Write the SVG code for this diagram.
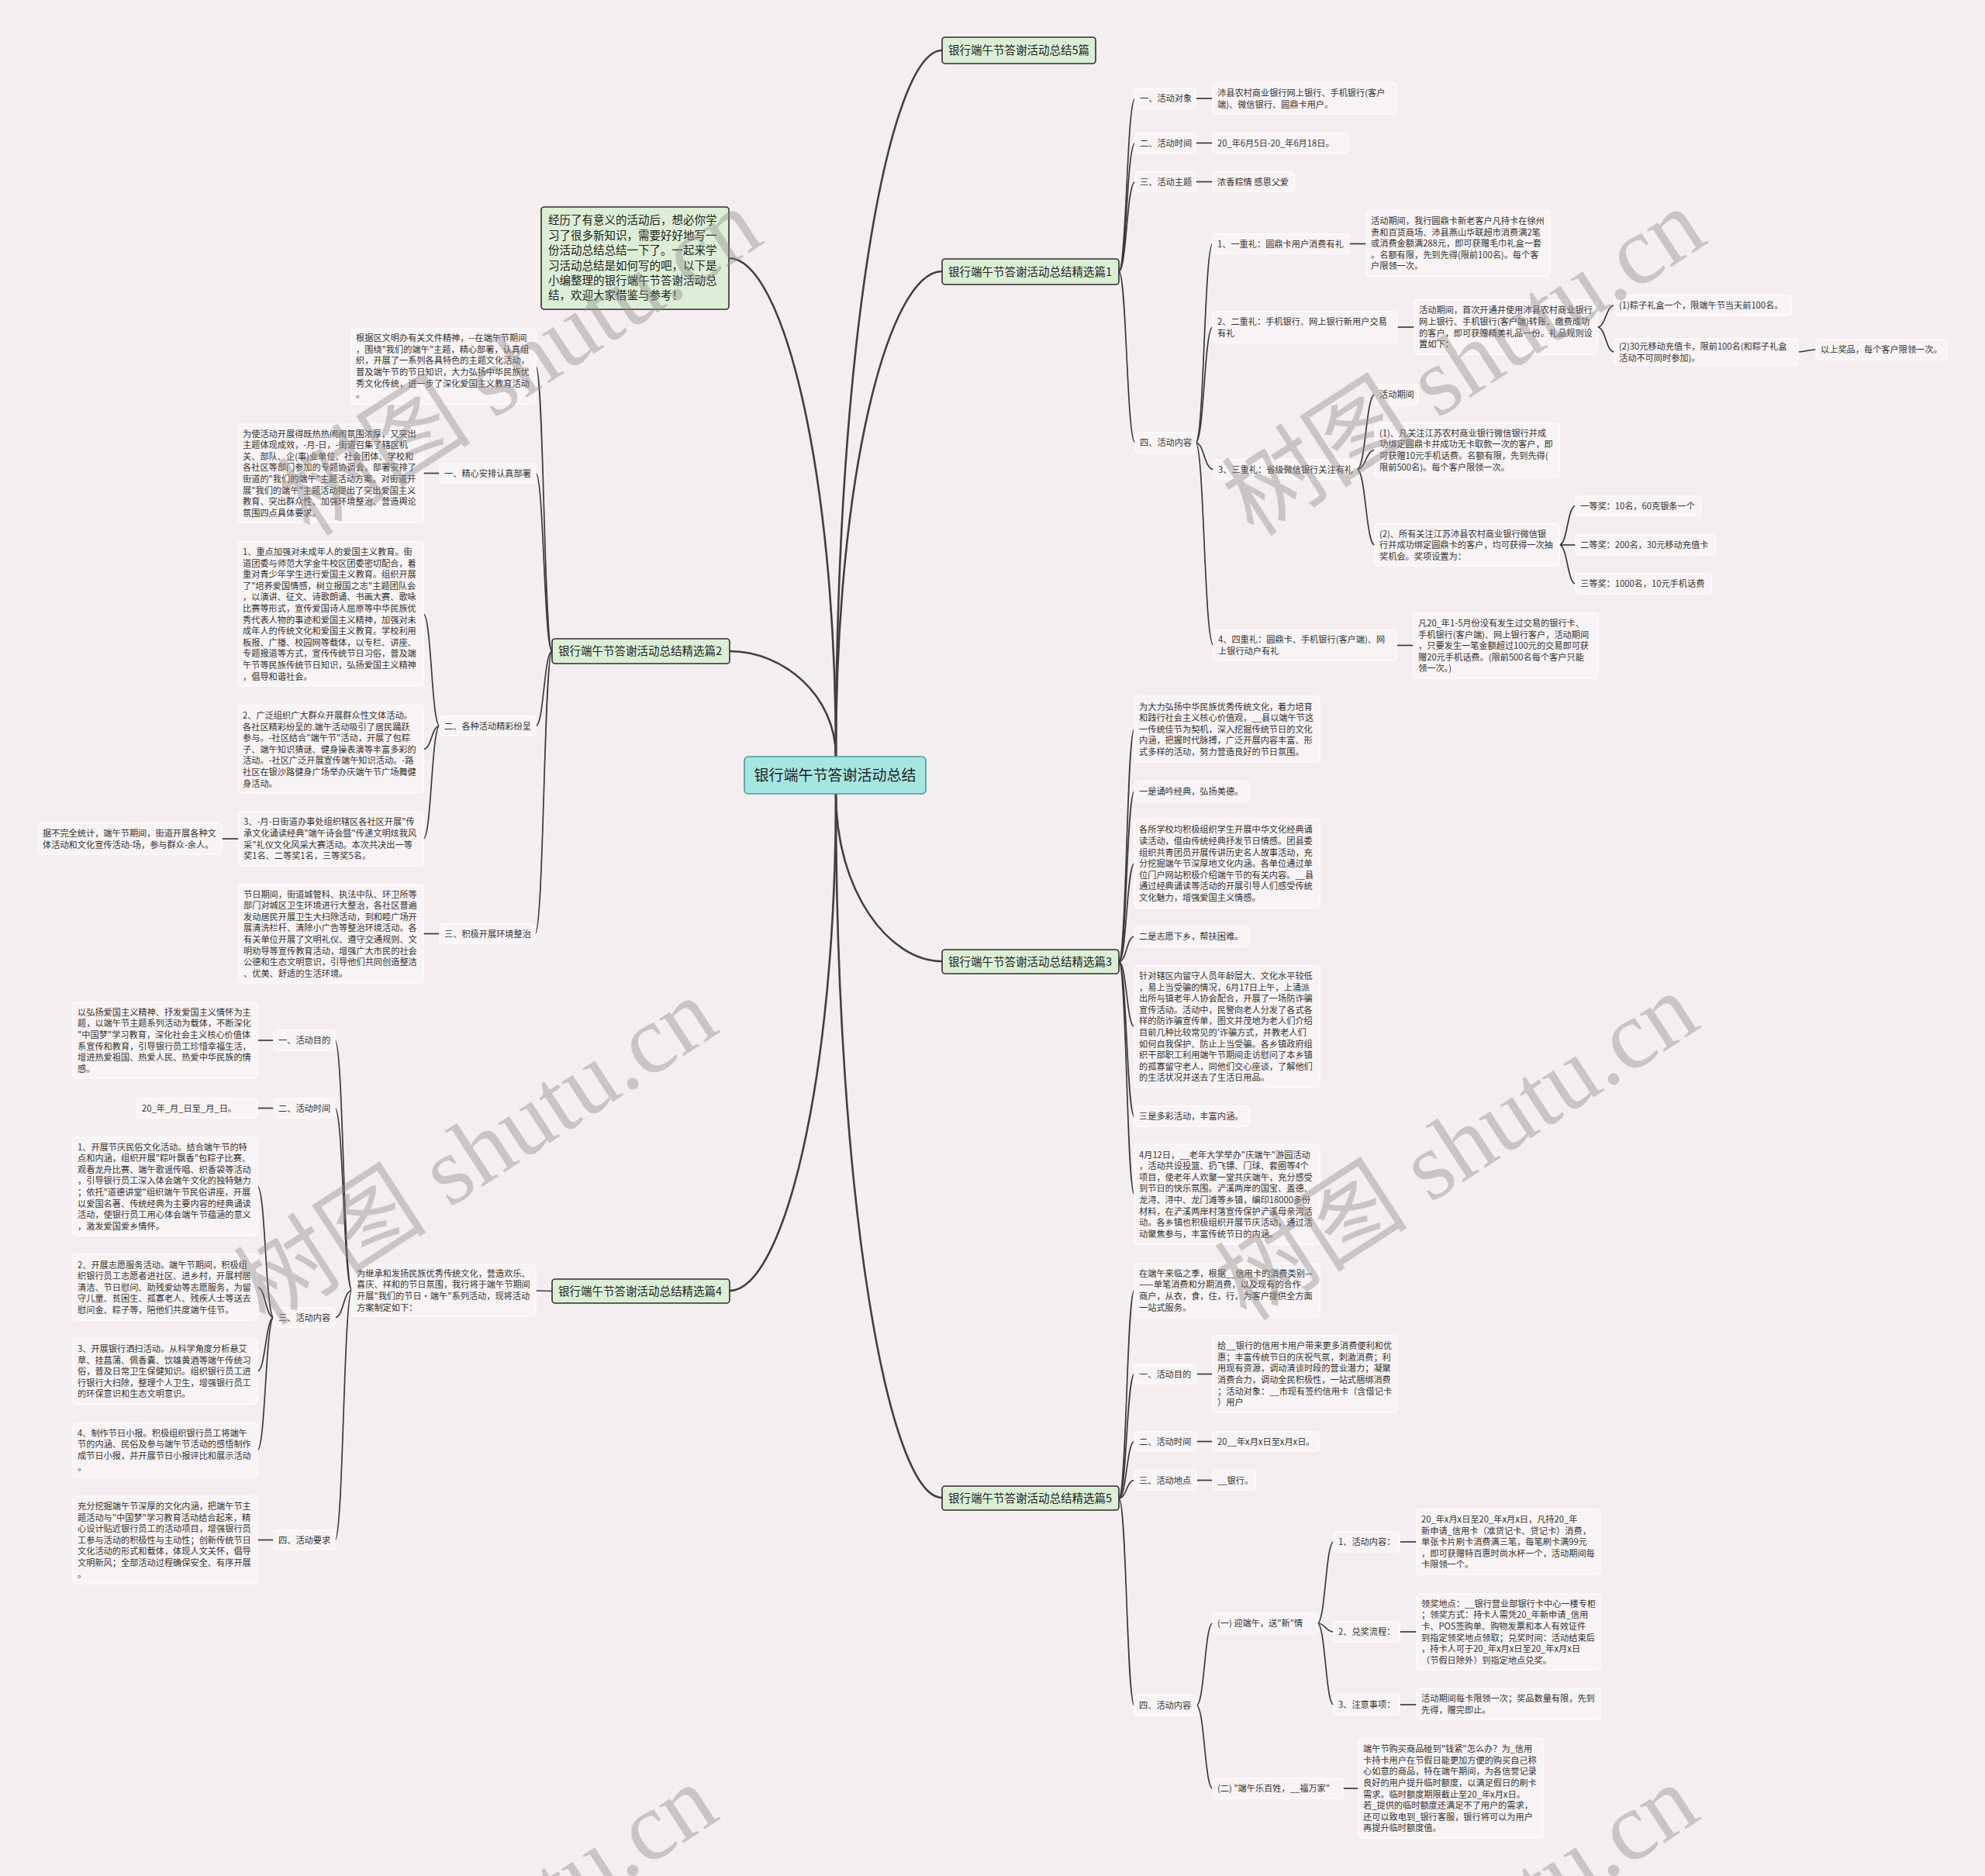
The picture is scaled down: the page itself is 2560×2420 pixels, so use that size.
<svg xmlns="http://www.w3.org/2000/svg" width="2560" height="2420" viewBox="0 0 2560 2420">
<style>
.bg{fill:#f5eef0}
.n rect{fill:#f8f3f4;stroke:#fdfbfb;stroke-width:1.5}
.n text{font-family:"Noto Sans CJK SC","Microsoft YaHei",sans-serif;font-size:11.2px;fill:#333}
.l1 rect{fill:#dcefd6;stroke:#2e2e2e;stroke-width:1.6}
.l1 text{font-family:"Noto Sans CJK SC","Microsoft YaHei",sans-serif;font-size:14.5px;fill:#222}
.root rect{fill:#a6e6e2;stroke:#4b9a96;stroke-width:1.6}
.root text{font-family:"Noto Sans CJK SC","Microsoft YaHei",sans-serif;font-size:19px;fill:#222}
.c0 path{fill:none;stroke:#404040;stroke-width:2.6}
.c1 path{fill:none;stroke:#3a3a3a;stroke-width:1.7}
.wm{font-family:"Liberation Serif","Noto Sans CJK SC",serif;font-size:125px;fill:#8f8a8b;fill-opacity:0.42}
</style>
<rect class="bg" x="0" y="0" width="2560" height="2420"/>

<g id="connectors">
<g class="c0">
<path d="M1078 976 C1078 448 1146 65 1215 65"/>
<path d="M1078 976 C1078 613 1146 350 1215 350"/>
<path d="M1078 976 C1078 603 1009 333 940 333"/>
<path d="M1078 976 C1078 897 1010 840 941 840"/>
<path d="M1078 1024 C1078 1149 1146 1240 1215 1240"/>
<path d="M1078 1024 C1078 1551 1146 1932 1215 1932"/>
<path d="M1078 1024 C1078 1396 1010 1665 941 1665"/>
</g>
<g class="c1">
<!-- 篇1 -->
<path d="M1443 350 C1453 350 1453 127 1464 127"/>
<path d="M1443 350 C1453 350 1453 184.5 1464 184.5"/>
<path d="M1443 350 C1453 350 1453 234.5 1464 234.5"/>
<path d="M1443 350 C1453 350 1453 571 1464 571"/>
<path d="M1542 127 L1564 127"/>
<path d="M1542 184.5 L1564 184.5"/>
<path d="M1542 234.5 L1564 234.5"/>
<path d="M1542 571 C1553 571 1553 314.5 1564 314.5"/>
<path d="M1542 571 C1553 571 1553 422 1564 422"/>
<path d="M1542 571 C1553 571 1553 605.5 1565 605.5"/>
<path d="M1542 571 C1553 571 1553 832.5 1565 832.5"/>
<path d="M1740 314.5 L1762 314.5"/>
<path d="M1802 422 L1824 422"/>
<path d="M2060 422 C2071 422 2071 394 2082 394"/>
<path d="M2060 422 C2071 422 2071 454 2082 454"/>
<path d="M2319 454 C2330 454 2330 451 2342 451"/>
<path d="M1750 605.5 C1761.5 605.5 1761.5 509 1773 509"/>
<path d="M1750 605.5 C1761.5 605.5 1761.5 580.5 1773 580.5"/>
<path d="M1750 605.5 C1761.5 605.5 1761.5 703 1773 703"/>
<path d="M2011 703 C2021.5 703 2021.5 652.5 2032 652.5"/>
<path d="M2011 703 L2032 703"/>
<path d="M2011 703 C2021.5 703 2021.5 753 2032 753"/>
<path d="M1801 832.5 L1823 832.5"/>
<!-- 篇3 -->
<path d="M1443 1240.5 C1453 1240.5 1453 940.5 1463 940.5"/>
<path d="M1443 1240.5 C1453 1240.5 1453 1021 1463 1021"/>
<path d="M1443 1240.5 C1453 1240.5 1453 1114 1463 1114"/>
<path d="M1443 1240.5 C1453 1240.5 1453 1208 1463 1208"/>
<path d="M1443 1240.5 C1453 1240.5 1453 1324.5 1463 1324.5"/>
<path d="M1443 1240.5 C1453 1240.5 1453 1440 1463 1440"/>
<path d="M1443 1240.5 C1453 1240.5 1453 1540.5 1463 1540.5"/>
<!-- 篇5 -->
<path d="M1443 1932.5 C1453 1932.5 1453 1664.5 1463 1664.5"/>
<path d="M1443 1932.5 C1453 1932.5 1453 1772.5 1463 1772.5"/>
<path d="M1443 1932.5 C1453 1932.5 1453 1859.5 1463 1859.5"/>
<path d="M1443 1932.5 C1453 1932.5 1453 1909.5 1463 1909.5"/>
<path d="M1443 1932.5 C1453 1932.5 1453 2200 1463 2200"/>
<path d="M1543 1772.5 L1564 1772.5"/>
<path d="M1543 1859.5 L1564 1859.5"/>
<path d="M1543 1909.5 L1564 1909.5"/>
<path d="M1543 2200 C1553.5 2200 1553.5 2094 1564 2094"/>
<path d="M1543 2200 C1553.5 2200 1553.5 2307 1564 2307"/>
<path d="M1699 2094 C1709.5 2094 1709.5 1989 1720 1989"/>
<path d="M1699 2094 C1709.5 2094 1709.5 2105 1720 2105"/>
<path d="M1699 2094 C1709.5 2094 1709.5 2199 1720 2199"/>
<path d="M1805 1989 L1827 1989"/>
<path d="M1805 2105 L1827 2105"/>
<path d="M1805 2199 L1827 2199"/>
<path d="M1732 2307 L1752 2307"/>
<!-- 篇2 -->
<path d="M712 840 C701.5 840 701.5 472.5 691 472.5"/>
<path d="M712 840 C701.5 840 701.5 610.5 691 610.5"/>
<path d="M712 840 C701.5 840 701.5 936.5 691 936.5"/>
<path d="M712 840 C701.5 840 701.5 1204.5 690 1204.5"/>
<path d="M567 610.5 L546 610.5"/>
<path d="M567 936.5 C556.5 936.5 556.5 792 546 792"/>
<path d="M567 936.5 C556.5 936.5 556.5 966.5 546 966.5"/>
<path d="M567 936.5 C556.5 936.5 556.5 1082 546 1082"/>
<path d="M308 1082 L286 1082"/>
<path d="M567 1204.5 L546 1204.5"/>
<!-- 篇4 -->
<path d="M712 1665.5 L691 1665"/>
<path d="M454 1664.5 C443 1664.5 443 1342 432 1342"/>
<path d="M454 1664.5 C443 1664.5 443 1429.5 432 1429.5"/>
<path d="M454 1664.5 C443 1664.5 443 1699.5 432 1699.5"/>
<path d="M454 1664.5 C443 1664.5 443 1986.5 432 1986.5"/>
<path d="M353 1342 L332 1342"/>
<path d="M353 1429.5 L332 1429.5"/>
<path d="M353 1699.5 C342.5 1699.5 342.5 1530.5 332 1530.5"/>
<path d="M353 1699.5 C342.5 1699.5 342.5 1660.5 332 1660.5"/>
<path d="M353 1699.5 C342.5 1699.5 342.5 1769 332 1769"/>
<path d="M353 1699.5 C342.5 1699.5 342.5 1870.5 332 1870.5"/>
<path d="M353 1986.5 L332 1986.5"/>
</g>
</g>

<g id="root" class="root"><rect x="960" y="976" width="234" height="48" rx="5"/><text x="1077" y="1006.8" text-anchor="middle">银行端午节答谢活动总结</text></g>

<g id="b5" class="l1"><rect x="1215" y="48" width="198" height="34" rx="4"/><text x="1223" y="70.3">银行端午节答谢活动总结5篇</text></g>
<g id="b1" class="l1"><rect x="1215" y="334" width="228" height="33" rx="4"/><text x="1223" y="355.8">银行端午节答谢活动总结精选篇1</text></g>
<g id="b3" class="l1"><rect x="1215" y="1225" width="228" height="31" rx="4"/><text x="1223" y="1245.8">银行端午节答谢活动总结精选篇3</text></g>
<g id="b5b" class="l1"><rect x="1215" y="1917" width="228" height="31" rx="4"/><text x="1223" y="1937.8">银行端午节答谢活动总结精选篇5</text></g>
<g id="b2" class="l1"><rect x="712" y="824" width="229" height="32" rx="4"/><text x="720" y="845.3">银行端午节答谢活动总结精选篇2</text></g>
<g id="b4" class="l1"><rect x="712" y="1650" width="229" height="31" rx="4"/><text x="720" y="1670.8">银行端午节答谢活动总结精选篇4</text></g>
<g id="intro" class="l1"><rect x="698" y="267" width="242" height="132" rx="4"/><text x="707" y="289.3"><tspan x="707">经历了有意义的活动后，想必你学</tspan><tspan x="707" dy="19.4">习了很多新知识，需要好好地写一</tspan><tspan x="707" dy="19.4">份活动总结总结一下了。一起来学</tspan><tspan x="707" dy="19.4">习活动总结是如何写的吧，以下是</tspan><tspan x="707" dy="19.4">小编整理的银行端午节答谢活动总</tspan><tspan x="707" dy="19.4">结，欢迎大家借鉴与参考！</tspan></text></g>

<!-- 篇1 children -->
<g id="n1" class="n"><rect x="1464" y="114" width="78" height="26" rx="4"/><text x="1470" y="131.2">一、活动对象</text></g>
<g id="n1t" class="n"><rect x="1564" y="107" width="237" height="40" rx="4"/><text x="1570" y="123.9"><tspan x="1570">沛县农村商业银行网上银行、手机银行(客户</tspan><tspan x="1570" dy="14.6">端)、微信银行、圆鼎卡用户。</tspan></text></g>
<g id="n2" class="n"><rect x="1464" y="172" width="78" height="25" rx="4"/><text x="1470" y="188.7">二、活动时间</text></g>
<g id="n2t" class="n"><rect x="1564" y="172" width="175" height="25" rx="4"/><text x="1570" y="188.7">20_年6月5日-20_年6月18日。</text></g>
<g id="n3" class="n"><rect x="1464" y="222" width="78" height="25" rx="4"/><text x="1470" y="238.7">三、活动主题</text></g>
<g id="n3t" class="n"><rect x="1564" y="222" width="105" height="25" rx="4"/><text x="1570" y="238.7">浓香粽情 感恩父爱</text></g>
<g id="n4" class="n"><rect x="1464" y="558" width="78" height="26" rx="4"/><text x="1470" y="575.2">四、活动内容</text></g>
<g id="n4a" class="n"><rect x="1564" y="302" width="176" height="25" rx="4"/><text x="1570" y="318.7">1、一重礼：圆鼎卡用户消费有礼</text></g>
<g id="n4at" class="n"><rect x="1762" y="272" width="237" height="84" rx="4"/><text x="1768" y="289"><tspan x="1768">活动期间，我行圆鼎卡新老客户凡持卡在徐州</tspan><tspan x="1768" dy="14.6">贵和百货商场、沛县燕山华联超市消费满2笔</tspan><tspan x="1768" dy="14.6">或消费金额满288元，即可获赠毛巾礼盒一套</tspan><tspan x="1768" dy="14.6">。名额有限，先到先得(限前100名)。每个客</tspan><tspan x="1768" dy="14.6">户限领一次。</tspan></text></g>
<g id="n4b" class="n"><rect x="1564" y="402" width="238" height="40" rx="4"/><text x="1570" y="418.9"><tspan x="1570">2、二重礼：手机银行、网上银行新用户交易</tspan><tspan x="1570" dy="14.6">有礼</tspan></text></g>
<g id="n4bt" class="n"><rect x="1824" y="387" width="236" height="70" rx="4"/><text x="1830" y="404.3"><tspan x="1830">活动期间，首次开通并使用沛县农村商业银行</tspan><tspan x="1830" dy="14.6">网上银行、手机银行(客户端)转账、缴费成功</tspan><tspan x="1830" dy="14.6">的客户，即可获赠精美礼品一份。礼品规则设</tspan><tspan x="1830" dy="14.6">置如下：</tspan></text></g>
<g id="n4b1" class="n"><rect x="2082" y="381" width="228" height="26" rx="4"/><text x="2088" y="398.2">(1)粽子礼盒一个，限端午节当天前100名。</text></g>
<g id="n4b2" class="n"><rect x="2082" y="437" width="237" height="34" rx="4"/><text x="2088" y="450.9"><tspan x="2088">(2)30元移动充值卡，限前100名(和粽子礼盒</tspan><tspan x="2088" dy="14.6">活动不可同时参加)。</tspan></text></g>
<g id="n4b3" class="n"><rect x="2342" y="438" width="169" height="26" rx="4"/><text x="2348" y="455.2">以上奖品，每个客户限领一次。</text></g>
<g id="n4c" class="n"><rect x="1565" y="593" width="185" height="25" rx="4"/><text x="1571" y="609.7">3、三重礼：省级微信银行关注有礼</text></g>
<g id="n4c1" class="n"><rect x="1773" y="496" width="56" height="26" rx="4"/><text x="1779" y="513.2">活动期间</text></g>
<g id="n4c2" class="n"><rect x="1773" y="546" width="238" height="69" rx="4"/><text x="1779" y="562.8"><tspan x="1779">(1)、凡关注江苏农村商业银行微信银行并成</tspan><tspan x="1779" dy="14.6">功绑定圆鼎卡并成功无卡取款一次的客户，即</tspan><tspan x="1779" dy="14.6">可获赠10元手机话费。名额有限，先到先得(</tspan><tspan x="1779" dy="14.6">限前500名)。每个客户限领一次。</tspan></text></g>
<g id="n4c3" class="n"><rect x="1773" y="676" width="238" height="54" rx="4"/><text x="1779" y="692.6"><tspan x="1779">(2)、所有关注江苏沛县农村商业银行微信银</tspan><tspan x="1779" dy="14.6">行并成功绑定圆鼎卡的客户，均可获得一次抽</tspan><tspan x="1779" dy="14.6">奖机会。奖项设置为：</tspan></text></g>
<g id="n4c3a" class="n"><rect x="2032" y="640" width="162" height="25" rx="4"/><text x="2038" y="656.7">一等奖：10名，60克银条一个</text></g>
<g id="n4c3b" class="n"><rect x="2032" y="690" width="180" height="26" rx="4"/><text x="2038" y="707.2">二等奖：200名，30元移动充值卡</text></g>
<g id="n4c3c" class="n"><rect x="2032" y="740" width="175" height="26" rx="4"/><text x="2038" y="757.2">三等奖：1000名，10元手机话费</text></g>
<g id="n4d" class="n"><rect x="1565" y="813" width="236" height="39" rx="4"/><text x="1571" y="829.4"><tspan x="1571">4、四重礼：圆鼎卡、手机银行(客户端)、网</tspan><tspan x="1571" dy="14.6">上银行动户有礼</tspan></text></g>
<g id="n4dt" class="n"><rect x="1823" y="791" width="238" height="84" rx="4"/><text x="1829" y="808"><tspan x="1829">凡20_年1-5月份没有发生过交易的银行卡、</tspan><tspan x="1829" dy="14.6">手机银行(客户端)、网上银行客户，活动期间</tspan><tspan x="1829" dy="14.6">，只要发生一笔金额超过100元的交易即可获</tspan><tspan x="1829" dy="14.6">赠20元手机话费。(限前500名每个客户只能</tspan><tspan x="1829" dy="14.6">领一次。)</tspan></text></g>

<!-- 篇3 children -->
<g id="p1" class="n"><rect x="1463" y="898" width="239" height="85" rx="4"/><text x="1469" y="915.5"><tspan x="1469">为大力弘扬中华民族优秀传统文化，着力培育</tspan><tspan x="1469" dy="14.6">和践行社会主义核心价值观，__县以端午节这</tspan><tspan x="1469" dy="14.6">一传统佳节为契机，深入挖掘传统节日的文化</tspan><tspan x="1469" dy="14.6">内涵，把握时代脉搏，广泛开展内容丰富、形</tspan><tspan x="1469" dy="14.6">式多样的活动，努力营造良好的节日氛围。</tspan></text></g>
<g id="p2" class="n"><rect x="1463" y="1008" width="148" height="26" rx="4"/><text x="1469" y="1025.2">一是诵吟经典，弘扬美德。</text></g>
<g id="p3" class="n"><rect x="1463" y="1057" width="239" height="114" rx="4"/><text x="1469" y="1074.4"><tspan x="1469">各所学校均积极组织学生开展中华文化经典诵</tspan><tspan x="1469" dy="14.6">读活动，借由传统经典抒发节日情感。团县委</tspan><tspan x="1469" dy="14.6">组织共青团员开展传讲历史名人故事活动，充</tspan><tspan x="1469" dy="14.6">分挖掘端午节深厚地文化内涵。各单位通过单</tspan><tspan x="1469" dy="14.6">位门户网站积极介绍端午节的有关内容。__县</tspan><tspan x="1469" dy="14.6">通过经典诵读等活动的开展引导人们感受传统</tspan><tspan x="1469" dy="14.6">文化魅力，增强爱国主义情感。</tspan></text></g>
<g id="p4" class="n"><rect x="1463" y="1195" width="148" height="26" rx="4"/><text x="1469" y="1212.2">二是志愿下乡，帮扶困难。</text></g>
<g id="p5" class="n"><rect x="1463" y="1246" width="239" height="157" rx="4"/><text x="1469" y="1263"><tspan x="1469">针对辖区内留守人员年龄层大、文化水平较低</tspan><tspan x="1469" dy="14.6">，易上当受骗的情况，6月17日上午，上涌派</tspan><tspan x="1469" dy="14.6">出所与镇老年人协会配合，开展了一场防诈骗</tspan><tspan x="1469" dy="14.6">宣传活动。活动中，民警向老人分发了各式各</tspan><tspan x="1469" dy="14.6">样的防诈骗宣传单，图文并茂地为老人们介绍</tspan><tspan x="1469" dy="14.6">目前几种比较常见的'诈骗方式，并教老人们</tspan><tspan x="1469" dy="14.6">如何自我保护、防止上当受骗。各乡镇政府组</tspan><tspan x="1469" dy="14.6">织干部职工利用端午节期间走访慰问了本乡镇</tspan><tspan x="1469" dy="14.6">的孤寡留守老人，同他们交心座谈，了解他们</tspan><tspan x="1469" dy="14.6">的生活状况并送去了生活日用品。</tspan></text></g>
<g id="p6" class="n"><rect x="1463" y="1427" width="148" height="26" rx="4"/><text x="1469" y="1444.2">三是多彩活动，丰富内涵。</text></g>
<g id="p7" class="n"><rect x="1463" y="1476" width="239" height="129" rx="4"/><text x="1469" y="1493.6"><tspan x="1469">4月12日，__老年大学举办"庆端午"游园活动</tspan><tspan x="1469" dy="14.6">，活动共设投篮、扔飞镖、门球、套圈等4个</tspan><tspan x="1469" dy="14.6">项目，使老年人欢聚一堂共庆端午，充分感受</tspan><tspan x="1469" dy="14.6">到节日的快乐氛围。浐溪两岸的国宝、盖德、</tspan><tspan x="1469" dy="14.6">龙浔、浔中、龙门滩等乡镇，编印18000多份</tspan><tspan x="1469" dy="14.6">材料，在浐溪两岸村落宣传保护浐溪母亲河活</tspan><tspan x="1469" dy="14.6">动。各乡镇也积极组织开展节庆活动，通过活</tspan><tspan x="1469" dy="14.6">动聚焦参与，丰富传统节日的内涵。</tspan></text></g>

<!-- 篇5 children -->
<g id="q1" class="n"><rect x="1463" y="1630" width="239" height="69" rx="4"/><text x="1469" y="1646.8"><tspan x="1469">在端午来临之季，根据__信用卡的消费类别—</tspan><tspan x="1469" dy="14.6">——单笔消费和分期消费，以及现有的合作</tspan><tspan x="1469" dy="14.6">商户，从衣，食，住，行，为客户提供全方面</tspan><tspan x="1469" dy="14.6">一站式服务。</tspan></text></g>
<g id="q2" class="n"><rect x="1463" y="1760" width="80" height="25" rx="4"/><text x="1469" y="1776.7">一、活动目的</text></g>
<g id="q2t" class="n"><rect x="1564" y="1723" width="238" height="99" rx="4"/><text x="1570" y="1740.2"><tspan x="1570">给__银行的信用卡用户带来更多消费便利和优</tspan><tspan x="1570" dy="14.6">惠；丰富传统节日的庆祝气氛，刺激消费；利</tspan><tspan x="1570" dy="14.6">用现有资源，调动清谈时段的营业潜力；凝聚</tspan><tspan x="1570" dy="14.6">消费合力，调动全民积极性，一站式捆绑消费</tspan><tspan x="1570" dy="14.6">；活动对象：__市现有签约信用卡（含借记卡</tspan><tspan x="1570" dy="14.6">）用户</tspan></text></g>
<g id="q3" class="n"><rect x="1463" y="1847" width="80" height="25" rx="4"/><text x="1469" y="1863.7">二、活动时间</text></g>
<g id="q3t" class="n"><rect x="1564" y="1847" width="137" height="25" rx="4"/><text x="1570" y="1863.7">20__年x月x日至x月x日。</text></g>
<g id="q4" class="n"><rect x="1463" y="1897" width="80" height="25" rx="4"/><text x="1469" y="1913.7">三、活动地点</text></g>
<g id="q4t" class="n"><rect x="1564" y="1897" width="55" height="25" rx="4"/><text x="1570" y="1913.7">__银行。</text></g>
<g id="q5" class="n"><rect x="1463" y="2187" width="80" height="26" rx="4"/><text x="1469" y="2204.2">四、活动内容</text></g>
<g id="q5a" class="n"><rect x="1564" y="2081" width="135" height="26" rx="4"/><text x="1570" y="2098.2">(一) 迎端午，送"新"情</text></g>
<g id="q5b" class="n"><rect x="1564" y="2294" width="168" height="26" rx="4"/><text x="1570" y="2311.2">(二) "端午乐百姓，__福万家"</text></g>
<g id="q5a1" class="n"><rect x="1720" y="1976" width="85" height="26" rx="4"/><text x="1726" y="1993.2">1、活动内容：</text></g>
<g id="q5a1t" class="n"><rect x="1827" y="1947" width="237" height="84" rx="4"/><text x="1833" y="1964"><tspan x="1833">20_年x月x日至20_年x月x日，凡持20_年</tspan><tspan x="1833" dy="14.6">新申请_信用卡（准贷记卡、贷记卡）消费，</tspan><tspan x="1833" dy="14.6">单张卡片刷卡消费满三笔，每笔刷卡满99元</tspan><tspan x="1833" dy="14.6">，即可获赠特百惠时尚水杯一个，活动期间每</tspan><tspan x="1833" dy="14.6">卡限领一个。</tspan></text></g>
<g id="q5a2" class="n"><rect x="1720" y="2092" width="85" height="26" rx="4"/><text x="1726" y="2109.2">2、兑奖流程：</text></g>
<g id="q5a2t" class="n"><rect x="1827" y="2056" width="237" height="98" rx="4"/><text x="1833" y="2072.7"><tspan x="1833">领奖地点：__银行营业部银行卡中心一楼专柜</tspan><tspan x="1833" dy="14.6">；领奖方式：持卡人需凭20_年新申请_信用</tspan><tspan x="1833" dy="14.6">卡、POS签购单、购物发票和本人有效证件</tspan><tspan x="1833" dy="14.6">到指定领奖地点领取；兑奖时间：活动结束后</tspan><tspan x="1833" dy="14.6">，持卡人可于20_年x月x日至20_年x月x日</tspan><tspan x="1833" dy="14.6">（节假日除外）到指定地点兑奖。</tspan></text></g>
<g id="q5a3" class="n"><rect x="1720" y="2186" width="85" height="26" rx="4"/><text x="1726" y="2203.2">3、注意事项：</text></g>
<g id="q5a3t" class="n"><rect x="1827" y="2178" width="237" height="40" rx="4"/><text x="1833" y="2194.9"><tspan x="1833">活动期间每卡限领一次；奖品数量有限，先到</tspan><tspan x="1833" dy="14.6">先得，赠完即止。</tspan></text></g>
<g id="q5bt" class="n"><rect x="1752" y="2243" width="238" height="128" rx="4"/><text x="1758" y="2260.1"><tspan x="1758">端午节购买商品碰到"钱紧"怎么办？为_信用</tspan><tspan x="1758" dy="14.6">卡持卡用户在节假日能更加方便的购买自己称</tspan><tspan x="1758" dy="14.6">心如意的商品，特在端午期间，为各信誉记录</tspan><tspan x="1758" dy="14.6">良好的用户提升临时额度，以满足假日的刷卡</tspan><tspan x="1758" dy="14.6">需求。临时额度期限截止至20_年x月x日。</tspan><tspan x="1758" dy="14.6">若_提供的临时额度还满足不了用户的需求，</tspan><tspan x="1758" dy="14.6">还可以致电到_银行客服，银行将可以为用户</tspan><tspan x="1758" dy="14.6">再提升临时额度值。</tspan></text></g>

<!-- 篇2 children -->
<g id="r1" class="n"><rect x="453" y="424" width="238" height="97" rx="4"/><text x="459" y="440.2"><tspan x="459">根据区文明办有关文件精神，--在端午节期间</tspan><tspan x="459" dy="14.6">，围绕"我们的端午"主题，精心部署，认真组</tspan><tspan x="459" dy="14.6">织，开展了一系列各具特色的主题文化活动，</tspan><tspan x="459" dy="14.6">普及端午节的节日知识，大力弘扬中华民族优</tspan><tspan x="459" dy="14.6">秀文化传统，进一步了深化爱国主义教育活动</tspan><tspan x="459" dy="14.6">。</tspan></text></g>
<g id="r2" class="n"><rect x="567" y="598" width="124" height="25" rx="4"/><text x="573" y="614.7">一、精心安排认真部署</text></g>
<g id="r2t" class="n"><rect x="307" y="547" width="239" height="127" rx="4"/><text x="313" y="563.6"><tspan x="313">为使活动开展得既热热闹闹氛围浓厚，又突出</tspan><tspan x="313" dy="14.6">主题体现成效，-月-日，-街道召集了辖区机</tspan><tspan x="313" dy="14.6">关、部队、企(事)业单位、社会团体、学校和</tspan><tspan x="313" dy="14.6">各社区等部门参加的专题协调会，部署安排了</tspan><tspan x="313" dy="14.6">街道的"我们的端午"主题活动方案。对街道开</tspan><tspan x="313" dy="14.6">展"我们的端午"主题活动提出了突出爱国主义</tspan><tspan x="313" dy="14.6">教育、突出群众性、加强环境整治、营造舆论</tspan><tspan x="313" dy="14.6">氛围四点具体要求。</tspan></text></g>
<g id="r3" class="n"><rect x="567" y="924" width="124" height="25" rx="4"/><text x="573" y="940.7">二、各种活动精彩纷呈</text></g>
<g id="r3a" class="n"><rect x="307" y="699" width="239" height="186" rx="4"/><text x="313" y="715.9"><tspan x="313">1、重点加强对未成年人的爱国主义教育。街</tspan><tspan x="313" dy="14.6">道团委与师范大学金牛校区团委密切配合，着</tspan><tspan x="313" dy="14.6">重对青少年学生进行爱国主义教育。组织开展</tspan><tspan x="313" dy="14.6">了"培养爱国情感，树立报国之志"主题团队会</tspan><tspan x="313" dy="14.6">，以演讲、征文、诗歌朗诵、书画大赛、歌咏</tspan><tspan x="313" dy="14.6">比赛等形式，宣传爱国诗人屈原等中华民族优</tspan><tspan x="313" dy="14.6">秀代表人物的事迹和爱国主义精神，加强对未</tspan><tspan x="313" dy="14.6">成年人的传统文化和爱国主义教育。学校利用</tspan><tspan x="313" dy="14.6">板报、广播、校园网等载体，以专栏、讲座、</tspan><tspan x="313" dy="14.6">专题报道等方式，宣传传统节日习俗，普及端</tspan><tspan x="313" dy="14.6">午节等民族传统节日知识，弘扬爱国主义精神</tspan><tspan x="313" dy="14.6">，倡导和谐社会。</tspan></text></g>
<g id="r3b" class="n"><rect x="307" y="910" width="239" height="113" rx="4"/><text x="313" y="926.9"><tspan x="313">2、广泛组织广大群众开展群众性文体活动。</tspan><tspan x="313" dy="14.6">各社区精彩纷呈的.端午活动吸引了居民踊跃</tspan><tspan x="313" dy="14.6">参与。-社区结合"端午节"活动，开展了包粽</tspan><tspan x="313" dy="14.6">子、端午知识猜谜、健身操表演等丰富多彩的</tspan><tspan x="313" dy="14.6">活动。-社区广泛开展宣传端午知识活动。-路</tspan><tspan x="313" dy="14.6">社区在银沙路健身广场举办庆端午节广场舞健</tspan><tspan x="313" dy="14.6">身活动。</tspan></text></g>
<g id="r3c" class="n"><rect x="308" y="1047" width="238" height="70" rx="4"/><text x="314" y="1064.3"><tspan x="314">3、-月-日街道办事处组织辖区各社区开展"传</tspan><tspan x="314" dy="14.6">承文化诵读经典"端午诗会暨"传递文明炫我风</tspan><tspan x="314" dy="14.6">采"礼仪文化风采大赛活动。本次共决出一等</tspan><tspan x="314" dy="14.6">奖1名、二等奖1名，三等奖5名。</tspan></text></g>
<g id="r3ct" class="n"><rect x="49" y="1062" width="237" height="40" rx="4"/><text x="55" y="1078.9"><tspan x="55">据不完全统计，端午节期间，街道开展各种文</tspan><tspan x="55" dy="14.6">体活动和文化宣传活动-场，参与群众-余人。</tspan></text></g>
<g id="r4" class="n"><rect x="567" y="1192" width="123" height="25" rx="4"/><text x="573" y="1208.7">三、积极开展环境整治</text></g>
<g id="r4t" class="n"><rect x="308" y="1141" width="238" height="127" rx="4"/><text x="314" y="1157.6"><tspan x="314">节日期间，街道城管科、执法中队、环卫所等</tspan><tspan x="314" dy="14.6">部门对城区卫生环境进行大整治，各社区普遍</tspan><tspan x="314" dy="14.6">发动居民开展卫生大扫除活动，到和睦广场开</tspan><tspan x="314" dy="14.6">展清洗栏杆、清除小广告等整治环境活动。各</tspan><tspan x="314" dy="14.6">有关单位开展了文明礼仪、遵守交通规则、文</tspan><tspan x="314" dy="14.6">明劝导等宣传教育活动，增强广大市民的社会</tspan><tspan x="314" dy="14.6">公德和生态文明意识，引导他们共同创造整洁</tspan><tspan x="314" dy="14.6">、优美、舒适的生活环境。</tspan></text></g>

<!-- 篇4 children -->
<g id="s0" class="n"><rect x="454" y="1631" width="237" height="67" rx="4"/><text x="460" y="1646.8"><tspan x="460">为继承和发扬民族优秀传统文化，营造欢乐、</tspan><tspan x="460" dy="14.6">喜庆、祥和的节日氛围，我行将于端午节期间</tspan><tspan x="460" dy="14.6">开展"我们的节日·端午"系列活动，现将活动</tspan><tspan x="460" dy="14.6">方案制定如下：</tspan></text></g>
<g id="s1" class="n"><rect x="353" y="1329" width="79" height="26" rx="4"/><text x="359" y="1346.2">一、活动目的</text></g>
<g id="s1t" class="n"><rect x="94" y="1293" width="238" height="98" rx="4"/><text x="100" y="1309.7"><tspan x="100">以弘扬爱国主义精神、抒发爱国主义情怀为主</tspan><tspan x="100" dy="14.6">题，以端午节主题系列活动为载体，不断深化</tspan><tspan x="100" dy="14.6">"中国梦"学习教育，深化社会主义核心价值体</tspan><tspan x="100" dy="14.6">系宣传和教育，引导银行员工珍惜幸福生活，</tspan><tspan x="100" dy="14.6">增进热爱祖国、热爱人民、热爱中华民族的情</tspan><tspan x="100" dy="14.6">感。</tspan></text></g>
<g id="s2" class="n"><rect x="353" y="1417" width="79" height="25" rx="4"/><text x="359" y="1433.7">二、活动时间</text></g>
<g id="s2t" class="n"><rect x="177" y="1417" width="155" height="25" rx="4"/><text x="183" y="1433.7">20_年_月_日至_月_日。</text></g>
<g id="s3" class="n"><rect x="353" y="1687" width="79" height="25" rx="4"/><text x="359" y="1703.7">三、活动内容</text></g>
<g id="s3a" class="n"><rect x="94" y="1467" width="238" height="127" rx="4"/><text x="100" y="1483.6"><tspan x="100">1、开展节庆民俗文化活动。结合端午节的特</tspan><tspan x="100" dy="14.6">点和内涵，组织开展"粽叶飘香"包粽子比赛、</tspan><tspan x="100" dy="14.6">观看龙舟比赛、端午歌谣传唱、织香袋等活动</tspan><tspan x="100" dy="14.6">，引导银行员工深入体会端午文化的独特魅力</tspan><tspan x="100" dy="14.6">；依托"道德讲堂"组织端午节民俗讲座，开展</tspan><tspan x="100" dy="14.6">以爱国名著、传统经典为主要内容的经典诵读</tspan><tspan x="100" dy="14.6">活动，使银行员工用心体会端午节蕴涵的意义</tspan><tspan x="100" dy="14.6">，激发爱国爱乡情怀。</tspan></text></g>
<g id="s3b" class="n"><rect x="94" y="1618" width="238" height="85" rx="4"/><text x="100" y="1635.5"><tspan x="100">2、开展志愿服务活动。端午节期间，积极组</tspan><tspan x="100" dy="14.6">织银行员工志愿者进社区、进乡村，开展村居</tspan><tspan x="100" dy="14.6">清洁、节日慰问、助残爱幼等志愿服务，为留</tspan><tspan x="100" dy="14.6">守儿童、贫困生、孤寡老人、残疾人士等送去</tspan><tspan x="100" dy="14.6">慰问金、粽子等，陪他们共度端午佳节。</tspan></text></g>
<g id="s3c" class="n"><rect x="94" y="1727" width="238" height="84" rx="4"/><text x="100" y="1744"><tspan x="100">3、开展银行洒扫活动。从科学角度分析悬艾</tspan><tspan x="100" dy="14.6">草、挂菖蒲、佩香囊、饮雄黄酒等端午传统习</tspan><tspan x="100" dy="14.6">俗，普及日常卫生保健知识。组织银行员工进</tspan><tspan x="100" dy="14.6">行银行大扫除，整理个人卫生，增强银行员工</tspan><tspan x="100" dy="14.6">的环保意识和生态文明意识。</tspan></text></g>
<g id="s3d" class="n"><rect x="94" y="1836" width="238" height="69" rx="4"/><text x="100" y="1852.8"><tspan x="100">4、制作节日小报。积极组织银行员工将端午</tspan><tspan x="100" dy="14.6">节的内涵、民俗及参与端午节活动的感悟制作</tspan><tspan x="100" dy="14.6">成节日小报，并开展节日小报评比和展示活动</tspan><tspan x="100" dy="14.6">。</tspan></text></g>
<g id="s4" class="n"><rect x="353" y="1974" width="79" height="25" rx="4"/><text x="359" y="1990.7">四、活动要求</text></g>
<g id="s4t" class="n"><rect x="94" y="1930" width="238" height="113" rx="4"/><text x="100" y="1946.9"><tspan x="100">充分挖掘端午节深厚的文化内涵，把端午节主</tspan><tspan x="100" dy="14.6">题活动与"中国梦"学习教育活动结合起来，精</tspan><tspan x="100" dy="14.6">心设计贴近银行员工的活动项目，增强银行员</tspan><tspan x="100" dy="14.6">工参与活动的积极性与主动性；创新传统节日</tspan><tspan x="100" dy="14.6">文化活动的形式和载体，体现人文关怀，倡导</tspan><tspan x="100" dy="14.6">文明新风；全部活动过程确保安全、有序开展</tspan><tspan x="100" dy="14.6">。</tspan></text></g>

<g id="watermark">
<text class="wm" transform="translate(400 694) rotate(-33)">树图 shutu.cn</text>
<text class="wm" transform="translate(1617 694) rotate(-33)">树图 shutu.cn</text>
<text class="wm" transform="translate(343 1712) rotate(-33)">树图 shutu.cn</text>
<text class="wm" transform="translate(1608 1706) rotate(-33)">树图 shutu.cn</text>
<text class="wm" transform="translate(343 2727) rotate(-33)">树图 shutu.cn</text>
<text class="wm" transform="translate(1608 2727) rotate(-33)">树图 shutu.cn</text>
</g>
</svg>
